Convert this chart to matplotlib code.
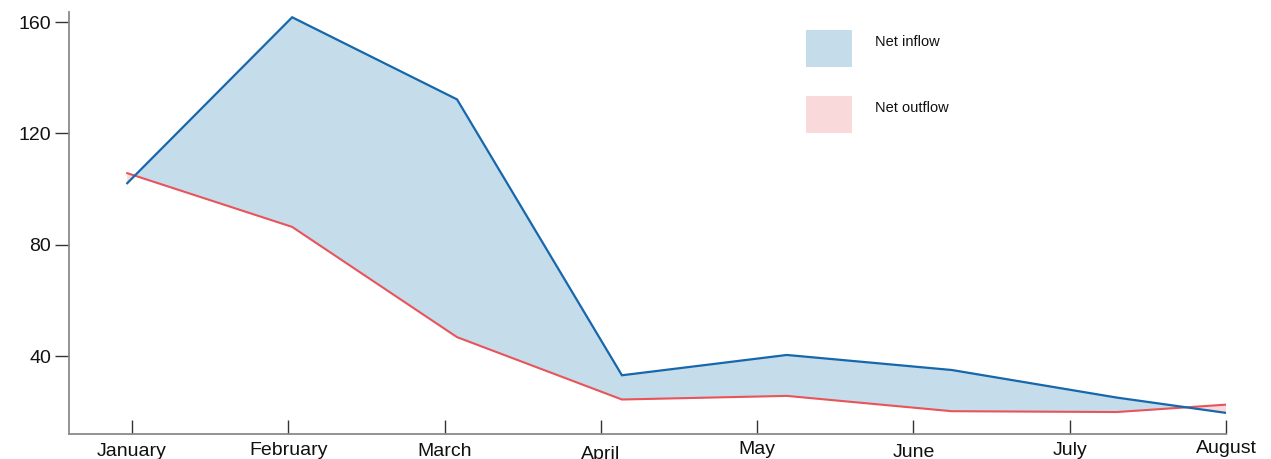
import numpy as np
import matplotlib
matplotlib.use("Agg")
import matplotlib.pyplot as plt
from matplotlib.patches import Rectangle
import matplotlib.transforms as mtransforms

months = ["January", "February", "March", "April", "May", "June", "July", "August"]
inflow = [102.1, 161.7, 132.2, 33.1, 40.4, 35.0, 25.1, 16.8]
outflow = [105.7, 86.4, 46.8, 24.4, 25.7, 20.2, 19.9, 23.9]
legend_labels = ["Net inflow", "Net outflow"]

BLUE = "#1667ab"
RED = "#e8545a"
BLUE_FILL = "#c5dcea"
RED_FILL = "#f9d9d9"

plt.rcParams["font.family"] = ["Liberation Sans", "DejaVu Sans"]

fig = plt.figure(figsize=(12.71, 4.59), dpi=100)
ax = fig.add_axes([0.0545, 0.0538, 0.9101, 0.9207])

# data positions sit on a slightly wider band than the month ticks
idx = np.arange(len(months))
xd = -0.03 + 1.055 * idx
inf = np.array(inflow)
outf = np.array(outflow)

ax.fill_between(xd, outf, inf, where=inf >= outf, interpolate=True,
                color=BLUE_FILL, linewidth=0)
ax.fill_between(xd, outf, inf, where=inf < outf, interpolate=True,
                color=RED_FILL, linewidth=0)
ax.plot(xd, outf, color=RED, lw=1.5, solid_joinstyle="miter")
ax.plot(xd, inf, color=BLUE, lw=1.6, solid_joinstyle="miter")

ax.set_xlim(-0.401, 7.0)
ax.set_ylim(11.9, 163.7)
ax.set_yticks([40, 80, 120, 160])
ax.set_xticks(idx)
ax.set_xticklabels(months)

for s in ["top", "right"]:
    ax.spines[s].set_visible(False)
for s in ["left", "bottom"]:
    ax.spines[s].set_color("#8a8a8a")
    ax.spines[s].set_linewidth(1.3)

ax.tick_params(axis="y", direction="out", length=10, width=1.0, color="#333333",
               labelsize=14, labelcolor="#111111", pad=3)
ax.tick_params(axis="x", direction="in", length=10, width=1.0, color="#333333",
               labelsize=14, labelcolor="#111111", pad=6.5)

# slight vertical jitter of the month labels (pixels, + = up)
jitter = [0, 1.5, 0, -2.5, 2.5, -1, 1, 3.5]
for lab, dy in zip(ax.get_xticklabels(), jitter):
    lab.set_transform(lab.get_transform() +
                      mtransforms.ScaledTranslation(0, dy / 100, fig.dpi_scale_trans))

# legend drawn manually in figure pixel space
W, H = 1271, 459
for (lab, col, y0) in zip(legend_labels, [BLUE_FILL, RED_FILL], [30, 96]):
    fig.patches.append(Rectangle((806 / W, 1 - (y0 + 37) / H), 46 / W, 37 / H,
                                 transform=fig.transFigure, color=col, lw=0))
    fig.text(875 / W, 1 - (y0 + 12) / H, lab, fontsize=10.5, color="#111111",
             va="center", ha="left")

fig.savefig("out.png", dpi=100)
